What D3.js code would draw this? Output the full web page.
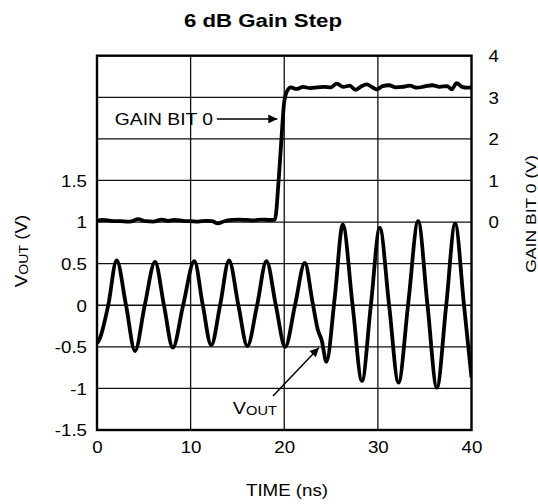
<!DOCTYPE html>
<html>
<head>
<meta charset="utf-8">
<script src="https://cdn.jsdelivr.net/npm/d3@7"></script>
<style>
  html, body { margin: 0; padding: 0; background: #fff; }
  svg { display: block; }
</style>
</head>
<body>
<svg id="chart" width="538" height="504"></svg>
<script>
// ---------------- DATA ----------------
const chartTitle = "6 dB Gain Step";
const xTickValues = [0, 10, 20, 30, 40];
const xTickLabels = ["0", "10", "20", "30", "40"];
const leftTickValues = [-1.5, -1, -0.5, 0, 0.5, 1, 1.5];
const leftTickLabels = ["-1.5", "-1", "-0.5", "0", "0.5", "1", "1.5"];
const rightTickValues = [0, 1, 2, 3, 4];
const rightTickLabels = ["0", "1", "2", "3", "4"];
const gridLeftValues = [-1, -0.5, 0, 0.5, 1, 1.5, 2, 2.5];
const gridXValues = [10, 20, 30];

// GAIN BIT 0 trace (right axis, V) vs time (ns)
const gainTime = [0, 0.6, 1.5, 2.5, 3.5, 4.4, 5.2, 6.0, 6.9, 7.6, 8.3, 9.2, 10.0, 10.8, 11.6, 12.3, 12.9, 13.6, 14.4, 15.2, 16.0, 16.8, 17.6, 18.5, 19.0,
  19.4, 19.7, 20.0, 20.3, 20.7, 21.3, 22.0, 22.8, 23.5, 24.3, 25.0, 25.6, 26.3, 27.0, 27.6, 28.2, 28.8, 29.4, 29.9, 30.5, 31.2, 31.9, 32.6, 33.4, 34.2, 35.0, 35.8, 36.6, 37.4, 37.9, 38.4, 39.0, 39.5, 40];
const gainVolts = [0.03, 0.05, 0.03, 0.02, 0.01, 0.07, 0.02, 0.01, 0.06, 0.03, 0.05, 0.03, 0.02, 0.01, 0.03, 0.02, -0.03, 0.02, 0.05, 0.06, 0.05, 0.04, 0.06, 0.05, 0.06,
  1.0, 2.0, 2.9, 3.15, 3.24, 3.2, 3.25, 3.22, 3.24, 3.25, 3.24, 3.33, 3.25, 3.28, 3.18, 3.26, 3.31, 3.24, 3.19, 3.27, 3.29, 3.24, 3.25, 3.28, 3.23, 3.26, 3.29, 3.25, 3.27, 3.19, 3.34, 3.25, 3.23, 3.24];

// VOUT trace (left axis, V) vs time (ns)
const voutTime = [0, 0.3, 1.2, 2.1, 3.1, 4.06, 5.1, 6.2, 7.15, 8.1, 9.2, 10.4, 11.3, 12.2, 13.15, 14.1, 15.1, 16.06, 17.1, 18.1, 19.1, 20.1, 21.15, 22.2,
  23.0, 23.6, 24.0, 24.5, 25.4, 26.25, 27.3, 28.3, 29.25, 30.2, 31.2, 32.2, 33.25, 34.3, 35.3, 36.3, 37.3, 38.25, 39.2, 40];
const voutVolts = [-0.46, -0.40, 0.0, 0.54, 0.0, -0.55, 0.0, 0.52, 0.0, -0.51, 0.0, 0.53, 0.0, -0.48, 0.0, 0.54, 0.0, -0.49, 0.0, 0.53, 0.0, -0.50, 0.0, 0.51,
  0.05, -0.30, -0.42, -0.68, 0.1, 0.97, 0.0, -0.91, 0.0, 0.93, 0.0, -0.93, 0.03, 1.01, 0.0, -0.99, 0.0, 0.98, 0.0, -0.87];

// ---------------- LAYOUT ----------------
const FONT = "'Liberation Sans', Arial, Helvetica, sans-serif";
const SX = 1.17;
const plot = { left: 97, right: 471.5, top: 55.7, bottom: 430 };

const svg = d3.select("#chart");
const x = d3.scaleLinear().domain([0, 40]).range([plot.left, plot.right]);
const yL = d3.scaleLinear().domain([-1.5, 3]).range([plot.bottom, plot.top]);
const yR = d3.scaleLinear().domain([-5, 4]).range([plot.bottom, plot.top]);

// grid
const grid = svg.append("g").attr("stroke", "#111").attr("stroke-width", 1.3);
grid.selectAll("line.h").data(gridLeftValues).join("line")
  .attr("x1", plot.left).attr("x2", plot.right)
  .attr("y1", d => yL(d)).attr("y2", d => yL(d));
grid.selectAll("line.v").data(gridXValues).join("line")
  .attr("y1", plot.top).attr("y2", plot.bottom)
  .attr("x1", d => x(d)).attr("x2", d => x(d));

// frame
svg.append("rect")
  .attr("x", plot.left).attr("y", plot.top)
  .attr("width", plot.right - plot.left).attr("height", plot.bottom - plot.top)
  .attr("fill", "none").attr("stroke", "#000").attr("stroke-width", 2.4);

// traces
const gainData = gainTime.map((t, i) => [t, gainVolts[i]]);
const voutData = voutTime.map((t, i) => [t, voutVolts[i]]);
const gainLine = d3.line().x(d => x(d[0])).y(d => yR(d[1])).curve(d3.curveMonotoneX);
const voutLine = d3.line().x(d => x(d[0])).y(d => yL(d[1])).curve(d3.curveMonotoneX);

svg.append("clipPath").attr("id", "clip").append("rect")
  .attr("x", plot.left).attr("y", plot.top - 5)
  .attr("width", plot.right - plot.left).attr("height", plot.bottom - plot.top + 10);

svg.append("path").datum(gainData).attr("d", gainLine)
  .attr("fill", "none").attr("stroke", "#000").attr("stroke-width", 3.8)
  .attr("stroke-linejoin", "round").attr("clip-path", "url(#clip)");
svg.append("path").datum(voutData).attr("d", voutLine)
  .attr("fill", "none").attr("stroke", "#000").attr("stroke-width", 3.8)
  .attr("stroke-linejoin", "round").attr("clip-path", "url(#clip)");

// axes (labels only)
function styleAxis(g) {
  g.attr("font-family", FONT).attr("font-size", 16);
  g.select(".domain").remove();
  g.selectAll(".tick line").remove();
  g.selectAll("text").attr("fill", "#000");
}
const axL = svg.append("g").attr("transform", `translate(${plot.left},0)`)
  .call(d3.axisLeft(yL).tickValues(leftTickValues).tickSize(0).tickFormat((d, i) => leftTickLabels[i]));
styleAxis(axL);
axL.selectAll("text").attr("x", 0).attr("dy", "0.36em").attr("transform", `translate(-10,0) scale(${SX},1)`);

const axR = svg.append("g").attr("transform", `translate(${plot.right},0)`)
  .call(d3.axisRight(yR).tickValues(rightTickValues).tickSize(0).tickFormat((d, i) => rightTickLabels[i]));
styleAxis(axR);
axR.selectAll("text").attr("x", 0).attr("dy", "0.36em").attr("transform", `translate(17,0) scale(${SX},1)`);

const axB = svg.append("g").attr("transform", `translate(0,${plot.bottom})`)
  .call(d3.axisBottom(x).tickValues(xTickValues).tickSize(0).tickFormat((d, i) => xTickLabels[i]));
styleAxis(axB);
axB.selectAll("text").attr("y", 0).attr("dy", "0.71em").attr("transform", `translate(0,12) scale(${SX},1)`);

// title
svg.append("text")
  .attr("transform", `translate(263,27) scale(${SX},1)`)
  .attr("text-anchor", "middle").attr("font-family", FONT)
  .attr("font-size", 19).attr("font-weight", "bold").attr("fill", "#000")
  .text(chartTitle);

// x axis title
svg.append("text")
  .attr("transform", `translate(287,496) scale(${SX},1)`)
  .attr("text-anchor", "middle").attr("font-family", FONT)
  .attr("font-size", 16).attr("fill", "#000")
  .text("TIME (ns)");

// left axis title
const lt = svg.append("text")
  .attr("transform", `translate(27,251) rotate(-90) scale(${SX},1)`)
  .attr("text-anchor", "middle").attr("font-family", FONT)
  .attr("font-size", 16).attr("fill", "#000");
lt.append("tspan").text("V");
lt.append("tspan").attr("font-size", 12).attr("dy", 1).text("OUT");
lt.append("tspan").attr("dy", -1).text(" (V)");

// right axis title
svg.append("text")
  .attr("transform", `translate(536,214) rotate(-90) scale(${SX},1)`)
  .attr("text-anchor", "middle").attr("font-family", FONT)
  .attr("font-size", 15).attr("fill", "#000")
  .text("GAIN BIT 0 (V)");

// annotations
const defs = svg.append("defs");
defs.append("marker").attr("id", "arrow")
  .attr("viewBox", "0 0 10 10").attr("refX", 10).attr("refY", 5)
  .attr("markerWidth", 11).attr("markerHeight", 9).attr("markerUnits", "userSpaceOnUse")
  .attr("orient", "auto")
  .append("path").attr("d", "M0,0 L10,5 L0,10 Z").attr("fill", "#000");

// GAIN BIT 0 label + arrow
svg.append("text")
  .attr("transform", `translate(${x(12.4)},${yR(2.48)}) scale(${SX},1)`)
  .attr("dy", "0.36em")
  .attr("text-anchor", "end").attr("font-family", FONT)
  .attr("font-size", 16.5).attr("fill", "#000")
  .text("GAIN BIT 0");
svg.append("line")
  .attr("x1", x(12.8)).attr("y1", yR(2.48))
  .attr("x2", x(19.26)).attr("y2", yR(2.48))
  .attr("stroke", "#000").attr("stroke-width", 1.5)
  .attr("marker-end", "url(#arrow)");

// VOUT label + arrow
const vt = svg.append("text")
  .attr("transform", `translate(${x(14.5)},${yL(-1.31)}) scale(${SX},1)`)
  .attr("font-family", FONT).attr("font-size", 17).attr("fill", "#000");
vt.append("tspan").text("V");
vt.append("tspan").attr("font-size", 12.5).attr("dy", 1).text("OUT");
svg.append("line")
  .attr("x1", x(18.8)).attr("y1", yL(-1.09))
  .attr("x2", x(23.7)).attr("y2", yL(-0.51))
  .attr("stroke", "#000").attr("stroke-width", 1.5)
  .attr("marker-end", "url(#arrow)");
</script>
</body>
</html>
